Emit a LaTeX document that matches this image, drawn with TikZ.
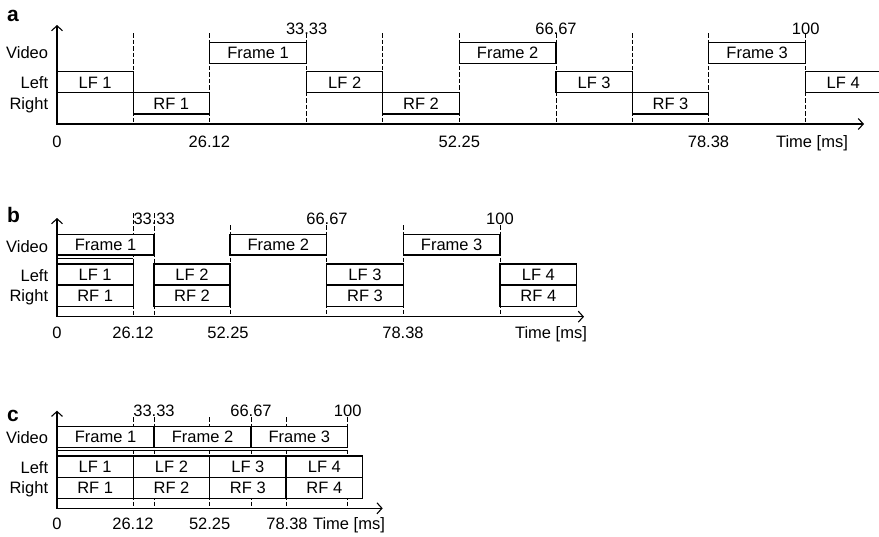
\documentclass[tikz,border=0pt]{standalone}
\usepackage{fontspec}
\setmainfont{Liberation Sans}
\usetikzlibrary{arrows.meta}
\tikzset{
  box/.style={draw, fill=white, line width=1.1pt, inner sep=0pt, text height=11.8pt, text depth=0pt},
  lbl/.style={inner sep=0pt, text height=11.8pt, text depth=0pt},
  rowlbl/.style={lbl, anchor=east},
  panel/.style={inner sep=0pt, anchor=base west, font=\fontsize{21}{21}\selectfont\bfseries},
  dashline/.style={line width=0.9pt, dash pattern=on 4.5pt off 2pt},
  axisline/.style={line width=1.1pt, {Straight Barb[length=5pt,width=11pt]}-{Straight Barb[length=5pt,width=11pt]}},
  extraline/.style={line width=0.7pt}
}
\newcommand\bx[6]{%
  \pgfmathsetmacro\bw{#3-#2}\pgfmathsetmacro\bh{#5-#4}%
  \pgfmathsetmacro\bcx{(#2+#3)/2}\pgfmathsetmacro\bcy{(#4+#5)/2}%
  \node[box, minimum width=\bw pt, minimum height=\bh pt] (#1) at (\bcx,\bcy) {#6};}
\newcommand\dl[3]{\draw[dashline] (#1,#2) -- (#1,#3);}
\begin{document}
\begin{tikzpicture}[x=1pt, y=-1pt, font=\fontsize{16.5}{19}\selectfont]
\useasboundingbox (0,0) rectangle (879,536);
% ---------------- panel a
\node[panel] (pa) at (7,21.7) {a};
\foreach \x in {133.3,209.3,306.7,382.7,459.3,556,632.3,708.7,805.7} {\dl{\x}{33}{124}}
\bx{a-lf1}{57}{133.3}{71.7}{92.7}{LF 1}
\bx{a-rf1}{133.3}{209.3}{92.7}{114}{RF 1}
\bx{a-f1}{209.3}{306.7}{42.3}{63.3}{Frame 1}
\bx{a-lf2}{306.7}{382.7}{71.7}{92.7}{LF 2}
\bx{a-rf2}{382.7}{459.3}{92.7}{114}{RF 2}
\bx{a-f2}{459.3}{556}{42.3}{63.3}{Frame 2}
\bx{a-lf3}{556}{632.3}{71.7}{92.7}{LF 3}
\bx{a-rf3}{632.3}{708.7}{92.7}{114}{RF 3}
\bx{a-f3}{708.7}{805.7}{42.3}{63.3}{Frame 3}
\node[lbl, minimum width=75pt, minimum height=21pt] (a-lf4) at (843.2,82.2) {LF 4};
\draw[line width=1.1pt] (a-lf4.north east) -- (a-lf4.north west) -- (a-lf4.south west) -- (a-lf4.south east);
\coordinate (a-top) at (57,25); \coordinate (a-o) at (57,124); \coordinate (a-end) at (864,124);
\draw[axisline] (a-top) -- (a-o) -- (a-end);
\node[rowlbl] (a-v) at (48.3,53) {Video};
\node[rowlbl] (a-l) at (48.3,83) {Left};
\node[rowlbl] (a-r) at (48.3,104) {Right};
\node[lbl] (a-t1) at (306.7,28.2) {33.33};
\node[lbl] (a-t2) at (556,28.2) {66.67};
\node[lbl] (a-t3) at (805.7,28.2) {100};
\node[lbl] (a-b0) at (57,141.7) {0};
\node[lbl] (a-b1) at (209.3,141.7) {26.12};
\node[lbl] (a-b2) at (459.3,141.7) {52.25};
\node[lbl] (a-b3) at (708.5,141.7) {78.38};
\node[lbl] (a-bt) at (812,141.7) {Time [ms]};
% ---------------- panel b
\node[panel] (pb) at (7,222) {b};
\dl{133.3}{213}{316.7}\dl{154}{213}{316.7}
\foreach \x in {230,326.7,403.3,500} {\dl{\x}{225}{316.7}}
\draw[extraline] (57,258.2) -- (133.3,258.2);
\bx{b-f1}{57}{154}{234.3}{255}{Frame 1}
\bx{b-lf1}{57}{133.3}{264}{285}{LF 1}
\bx{b-rf1}{57}{133.3}{285}{306.7}{RF 1}
\bx{b-lf2}{154}{230}{264}{285}{LF 2}
\bx{b-rf2}{154}{230}{285}{306.7}{RF 2}
\bx{b-f2}{230}{326.7}{234.3}{255}{Frame 2}
\bx{b-lf3}{326.7}{403.3}{264}{285}{LF 3}
\bx{b-rf3}{326.7}{403.3}{285}{306.7}{RF 3}
\bx{b-f3}{403.3}{500}{234.3}{255}{Frame 3}
\bx{b-lf4}{500}{576.7}{264}{285}{LF 4}
\bx{b-rf4}{500}{576.7}{285}{306.7}{RF 4}
\coordinate (b-top) at (57,218); \coordinate (b-o) at (57,316.7); \coordinate (b-end) at (584,316.7);
\draw[axisline] (b-top) -- (b-o) -- (b-end);
\node[rowlbl] (b-v) at (48.3,246.7) {Video};
\node[rowlbl] (b-l) at (48.3,276) {Left};
\node[rowlbl] (b-r) at (48.3,296) {Right};
\node[lbl] (b-t1) at (154.2,219) {33.33};
\node[lbl] (b-t2) at (327,219) {66.67};
\node[lbl] (b-t3) at (500,219) {100};
\node[lbl] (b-b0) at (57,332.5) {0};
\node[lbl] (b-b1) at (133,332.5) {26.12};
\node[lbl] (b-b2) at (228,332.5) {52.25};
\node[lbl] (b-b3) at (403,332.5) {78.38};
\node[lbl] (b-bt) at (551,332.5) {Time [ms]};
% ---------------- panel c
\node[panel] (pc) at (7,421.7) {c};
\foreach \x in {133.3,154,209.7,251,286,347.7} {\dl{\x}{417}{508.3}}
\draw[extraline] (57,450.6) -- (347.7,450.6);
\bx{c-f1}{57}{154}{426.7}{447.3}{Frame 1}
\bx{c-f2}{154}{251}{426.7}{447.3}{Frame 2}
\bx{c-f3}{251}{347.7}{426.7}{447.3}{Frame 3}
\bx{c-lf1}{57}{133.3}{456}{477.3}{LF 1}
\bx{c-lf2}{133.3}{209.7}{456}{477.3}{LF 2}
\bx{c-lf3}{209.7}{286}{456}{477.3}{LF 3}
\bx{c-lf4}{286}{362.7}{456}{477.3}{LF 4}
\bx{c-rf1}{57}{133.3}{477.3}{498.3}{RF 1}
\bx{c-rf2}{133.3}{209.7}{477.3}{498.3}{RF 2}
\bx{c-rf3}{209.7}{286}{477.3}{498.3}{RF 3}
\bx{c-rf4}{286}{362.7}{477.3}{498.3}{RF 4}
\coordinate (c-top) at (57,410.7); \coordinate (c-o) at (57,508.3); \coordinate (c-end) at (382.7,508.3);
\draw[axisline] (c-top) -- (c-o) -- (c-end);
\node[rowlbl] (c-v) at (48.3,437.5) {Video};
\node[rowlbl] (c-l) at (48.3,467.5) {Left};
\node[rowlbl] (c-r) at (48.3,487.5) {Right};
\node[lbl] (c-t1) at (154,411) {33.33};
\node[lbl] (c-t2) at (251,411) {66.67};
\node[lbl] (c-t3) at (347.7,411) {100};
\node[lbl] (c-b0) at (57,524) {0};
\node[lbl] (c-b1) at (133,524) {26.12};
\node[lbl] (c-b2) at (209.7,524) {52.25};
\node[lbl] (c-b3) at (287,524) {78.38};
\node[lbl] (c-bt) at (349,524) {Time [ms]};
\end{tikzpicture}
\end{document}
